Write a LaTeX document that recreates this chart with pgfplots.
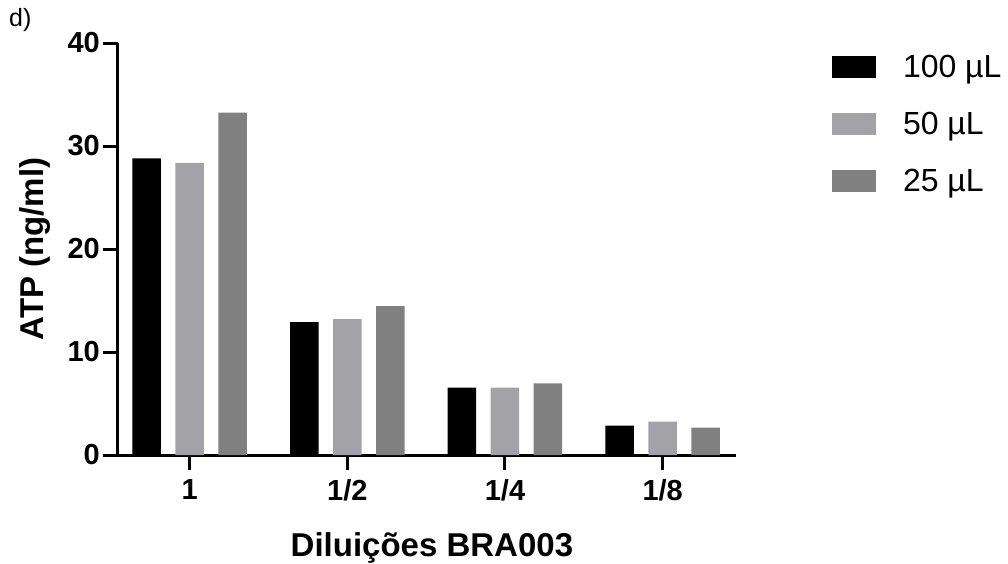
\documentclass[border=0pt]{standalone}
\usepackage{fontspec}
\setmainfont{Liberation Sans}
\usepackage{pgfplots}
\pgfplotsset{compat=1.18}
\definecolor{lgrey}{HTML}{A3A2A7}
\definecolor{dgrey}{HTML}{808080}
\begin{document}
\begin{tikzpicture}
\useasboundingbox (-118pt,-108pt) rectangle (890pt,455pt);
\node[anchor=north west, font=\fontsize{25}{30}\selectfont, inner sep=0pt] at (-109pt,447pt) {d)};
\begin{axis}[
  anchor=south west,
  scale only axis, width=618pt, height=412pt,
  xmin=-0.454, xmax=3.465, ymin=0, ymax=40,
  axis x line=bottom, axis y line=left,
  axis line style={-, line width=3pt},
  ybar=14.5pt, bar width=28.5pt,
  xtick={0,1,2,3}, xticklabels={1,1/2,1/4,1/8},
  ytick={0,10,20,30,40},
  tick align=outside, major tick length=15pt,
  every tick/.style={black, line width=3pt},
  tick label style={font=\fontsize{29}{35}\selectfont\bfseries},
  yticklabel style={inner xsep=3pt},
  xticklabel style={yshift=-6pt},
  /pgf/number format/assume math mode=true,
  label style={font=\fontsize{33}{40}\selectfont\bfseries},
  xlabel={Diluições BRA003}, ylabel={ATP (ng/ml)},
  xlabel style={at={(axis description cs:0.508,-0.226)}, anchor=center},
  ylabel style={at={(axis description cs:-0.134,0.5)}, anchor=center},
  legend style={at={(axis description cs:1.155,0.975)}, anchor=north west,
    draw=none, font=\fontsize{32}{38}\selectfont, row sep=29pt, column sep=25pt, inner sep=0pt},
  legend cell align=left,
  legend image code/.code={\fill[#1] (0pt,-11pt) rectangle (44pt,11pt);},
]
\addplot[fill=black, draw=none] coordinates {(0,28.8) (1,12.9) (2,6.55) (3,2.85)};
\addplot[fill=lgrey, draw=none] coordinates {(0,28.35) (1,13.2) (2,6.55) (3,3.25)};
\addplot[fill=dgrey, draw=none] coordinates {(0,33.25) (1,14.45) (2,6.95) (3,2.65)};
\legend{100 µL, 50 µL, 25 µL}
\end{axis}
\end{tikzpicture}
\end{document}
